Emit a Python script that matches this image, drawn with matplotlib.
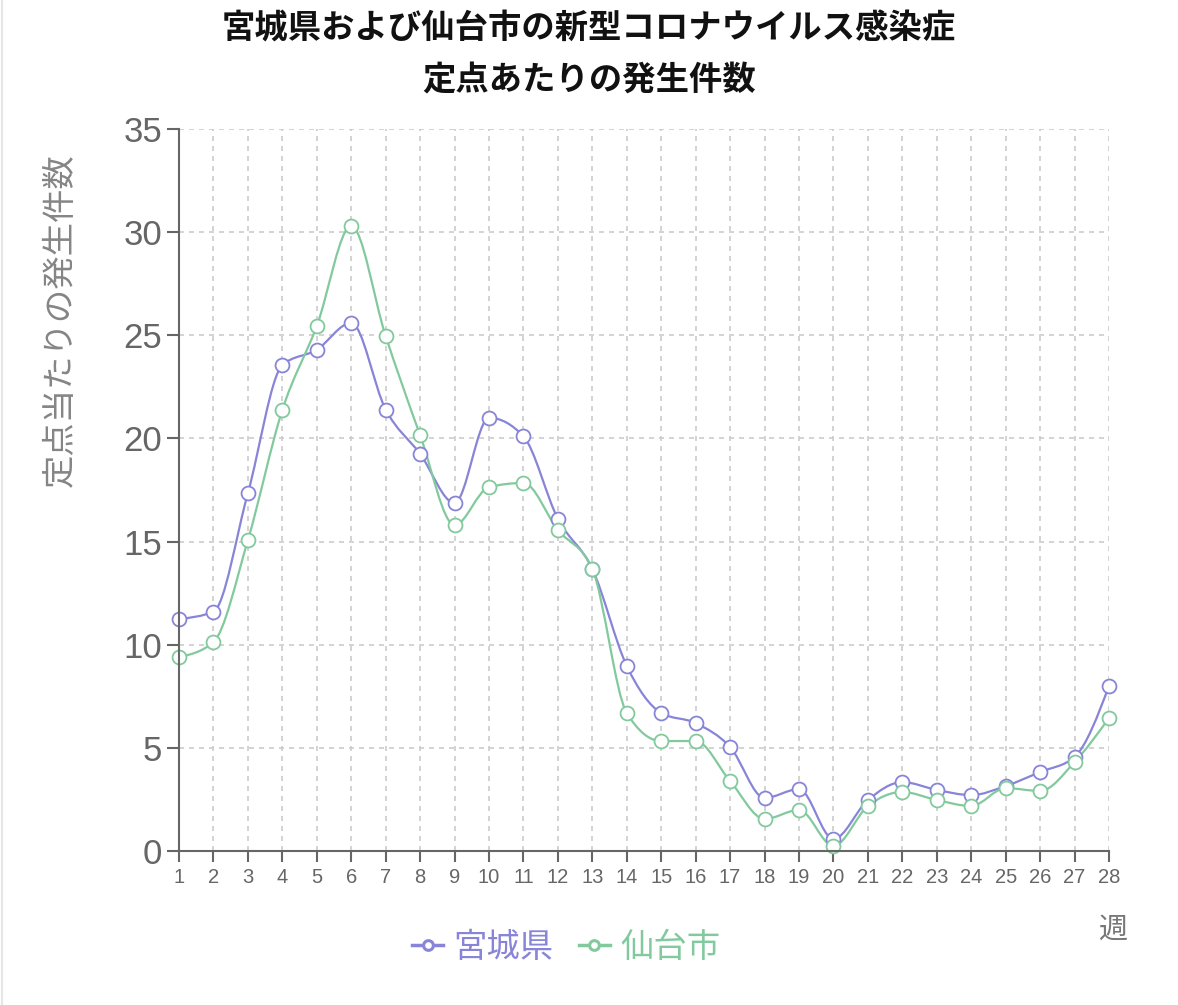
import numpy as np
import matplotlib
matplotlib.use("Agg")
import matplotlib.pyplot as plt
from matplotlib.path import Path
from matplotlib.patches import PathPatch
from matplotlib.lines import Line2D

plt.rcParams['font.family'] = ['Noto Sans CJK JP', 'DejaVu Sans']

weeks = list(range(1, 29))
miyagi = [11.25, 11.6, 17.35, 23.55, 24.3, 25.6, 21.4, 19.25, 16.87, 21.0,
          20.1, 16.1, 13.67, 8.97, 6.69, 6.2, 5.04, 2.57, 3.0, 0.58,
          2.47, 3.34, 2.96, 2.71, 3.15, 3.83, 4.56, 8.0]
sendai = [9.4, 10.13, 15.07, 21.38, 25.45, 30.3, 24.96, 20.16, 15.8, 17.64,
          17.84, 15.56, 13.67, 6.69, 5.33, 5.33, 3.39, 1.55, 1.99, 0.24,
          2.18, 2.86, 2.47, 2.18, 3.05, 2.91, 4.31, 6.45]
series_names = ['宮城県', '仙台市']
colors = ['#8884d8', '#82ca9d']
y_ticks = [0, 5, 10, 15, 20, 25, 30, 35]
title_lines = ['宮城県および仙台市の新型コロナウイルス感染症', '定点あたりの発生件数']
y_label = '定点当たりの発生件数'
x_label = '週'


def monotone_path(x, y):
    x = np.asarray(x, float)
    y = np.asarray(y, float)
    n = len(x)
    h = np.diff(x)
    s = np.diff(y) / h
    t = np.zeros(n)
    for i in range(1, n - 1):
        s0, s1 = s[i - 1], s[i]
        p = (s0 * h[i] + s1 * h[i - 1]) / (h[i - 1] + h[i])
        v = (np.sign(s0) + np.sign(s1)) * min(abs(s0), abs(s1), 0.5 * abs(p))
        t[i] = v
    t[0] = (3 * s[0] - t[1]) / 2
    t[-1] = (3 * s[-1] - t[-2]) / 2
    verts = [(x[0], y[0])]
    codes = [Path.MOVETO]
    for i in range(n - 1):
        dx = (x[i + 1] - x[i]) / 3
        verts += [(x[i] + dx, y[i] + dx * t[i]),
                  (x[i + 1] - dx, y[i + 1] - dx * t[i + 1]),
                  (x[i + 1], y[i + 1])]
        codes += [Path.CURVE4] * 3
    return Path(verts, codes)


fig = plt.figure(figsize=(11.78, 10.05), dpi=100)
ax = fig.add_axes([179 / 1178, 1 - 851 / 1005, (1109 - 179) / 1178, (851 - 129) / 1005])
ax.set_xlim(1, 28)
ax.set_ylim(0, 35)

ax.set_xticks(weeks)
ax.set_xticklabels([str(w) for w in weeks], family=['Liberation Sans', 'DejaVu Sans'])
ax.set_yticks(y_ticks)
ax.set_yticklabels([str(v) for v in y_ticks], family=['Liberation Sans', 'DejaVu Sans'])
ax.grid(True, linestyle=(0, (3, 3)), color='#cccccc', linewidth=1.2)
ax.set_axisbelow(True)

for sp in ['top', 'right']:
    ax.spines[sp].set_visible(False)
for sp in ['left', 'bottom']:
    ax.spines[sp].set_color('#666666')
    ax.spines[sp].set_linewidth(1.5)
    ax.spines[sp].set_zorder(5)

ax.tick_params(axis='y', length=8.6, width=1.5, color='#666666', labelcolor='#666666',
               labelsize=25, pad=3.5)
ax.tick_params(axis='x', length=8, width=1.5, color='#666666', labelcolor='#666666',
               labelsize=14.5, pad=4)

handles = []
for vals, c, name in zip([miyagi, sendai], colors, series_names):
    ax.add_patch(PathPatch(monotone_path(weeks, vals), facecolor='none',
                           edgecolor=c, linewidth=1.6, zorder=3, clip_on=False))
    ax.plot(weeks, vals, linestyle='none', marker='o', markersize=10,
            markerfacecolor='white', markeredgecolor=c, markeredgewidth=1.3,
            zorder=4, clip_on=False)
    handles.append(Line2D([0], [0], color=c, linewidth=2.5, marker='o', markersize=7,
                          markerfacecolor='white', markeredgecolor=c,
                          markeredgewidth=2.2))

fig.text(0.5, 1 - 29 / 1005, title_lines[0], ha='center', va='center',
         fontsize=24, fontweight='bold', color='#111111')
fig.text(0.5, 1 - 81 / 1005, title_lines[1], ha='center', va='center',
         fontsize=24, fontweight='bold', color='#111111')

fig.text(60 / 1178, 1 - 320 / 1005, y_label, rotation=90, ha='center', va='center',
         fontsize=24, color='#858585')
fig.text(1113 / 1178, 1 - 930 / 1005, x_label, ha='center', va='center',
         fontsize=21, color='#777777')

leg = fig.legend(handles, series_names, loc='center', ncol=2,
                 bbox_to_anchor=(566 / 1178, 1 - 947 / 1005), frameon=False,
                 fontsize=24, handlelength=0.95, handletextpad=0.3,
                 columnspacing=0.75, labelcolor='linecolor')

fig.add_artist(Line2D([0.0015, 0.0015], [0, 1], color='#e6e6e6', linewidth=1.5))

fig.savefig('out.png', dpi=100, facecolor='white')
